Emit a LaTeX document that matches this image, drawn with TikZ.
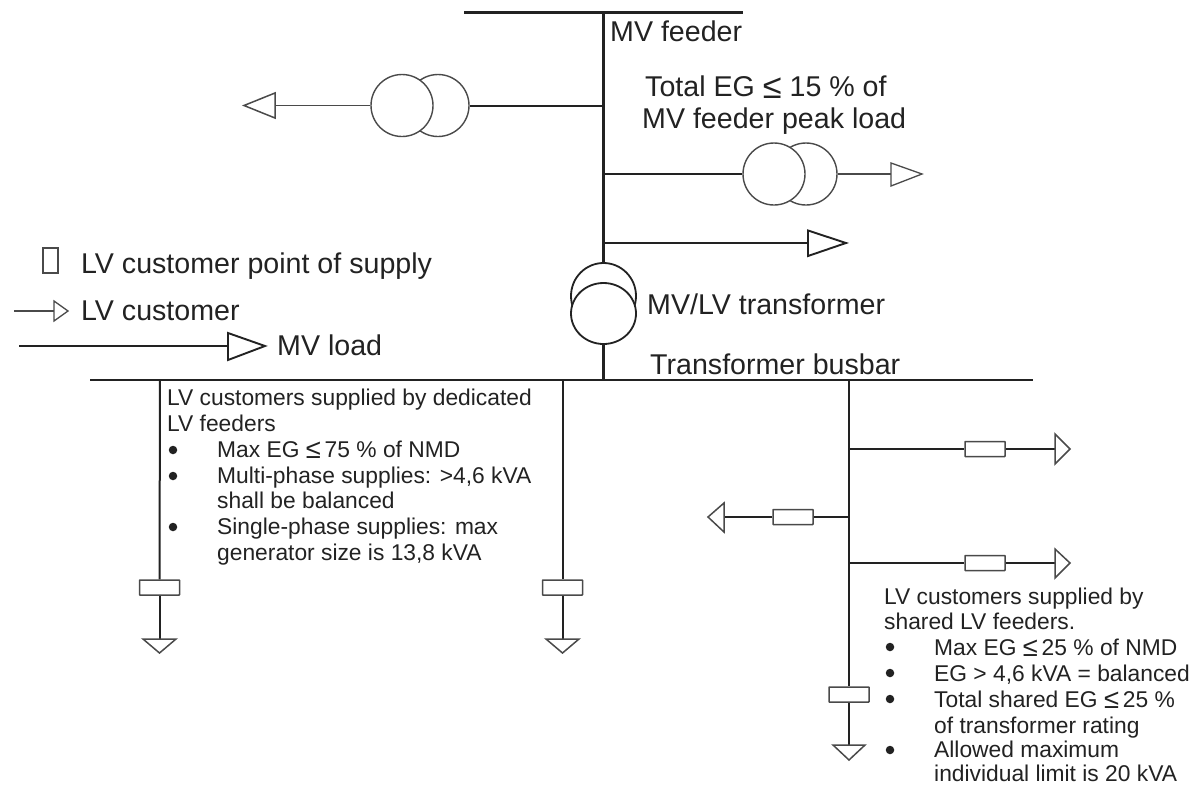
\documentclass[tikz,border=0pt]{standalone}
\usepackage{fontspec}
\usepackage{graphicx}
\usetikzlibrary{shapes.geometric}
\setmainfont{Liberation Sans}
\definecolor{ink}{HTML}{222222}
\definecolor{soft}{HTML}{4A4A4A}
\newcommand{\bigle}{\raisebox{-0.06em}{\scalebox{1.2}{≤}}}
\newcommand{\tightle}{\raisebox{-0.06em}{\scalebox{1.2}{≤}}\hspace{-2.5pt}}
\tikzset{
  x=1pt,y=-1pt,
  bar/.style={draw=ink,line width=2.4pt},
  wire/.style={draw=ink,line width=2pt},
  thin wire/.style={draw=soft,line width=1.3pt},
  fuse/.style={draw=soft,fill=white,line width=1.5pt,rectangle,rounded corners=0.5pt,inner sep=0pt,minimum width=40pt,minimum height=15pt},
  legend box/.style={draw=soft,fill=white,line width=1.3pt,rectangle,inner sep=0pt,minimum width=15pt,minimum height=25pt},
  tri/.style={draw=soft,fill=white,line width=1.5pt,line join=miter},
  tri big/.style={draw=ink,fill=white,line width=1.9pt,line join=miter},
  coil/.style={draw=soft,fill=white,line width=1.4pt},
  coil dark/.style={draw=ink,fill=white,line width=1.8pt},
  big/.style={anchor=base west,inner sep=0pt,text=ink,font=\fontsize{28.6}{32}\selectfont},
  small/.style={anchor=base west,inner sep=0pt,text=ink,font=\fontsize{22.8}{26}\selectfont},
  dot/.style={circle,fill=ink,inner sep=0pt,minimum size=8.5pt},
}
\begin{document}
\begin{tikzpicture}
\useasboundingbox (0,0) rectangle (1193,785);
% busbars
\coordinate (mvL) at (464,12.5);
\coordinate (mvR) at (743,12.5);
\coordinate (mvJ) at (603.5,12.5);
\coordinate (busL) at (90,380);
\coordinate (busR) at (1033,380);
\coordinate (busT) at (603.5,380);
\coordinate (busA) at (160,380);
\coordinate (busB) at (562.5,380);
\coordinate (busC) at (849,380);
\draw[bar] (mvL) -- (mvR);
\draw[bar] (busL) -- (busR);
% main feeder
\coordinate (j1) at (603.5,105.5);
\coordinate (j2) at (603.5,174);
\coordinate (j3) at (603.5,243);
\coordinate (txTop) at (603.5,264);
\coordinate (txBot) at (603.5,344);
\draw[bar] (mvJ) -- (txTop);
\draw[bar] (txBot) -- (busT);
% MV/LV transformer
\node[coil dark,ellipse,inner sep=0pt,minimum width=65pt,minimum height=66pt] (txA) at (603.5,296) {};
\node[coil dark,ellipse,inner sep=0pt,minimum width=65pt,minimum height=61pt] (txB) at (603.5,313.5) {};
% upper left transformer
\node[coil,circle,inner sep=0pt,minimum size=62pt] (tlB) at (438,105.5) {};
\node[coil,circle,inner sep=0pt,minimum size=62pt] (tlA) at (402,105.5) {};
\coordinate (tlBase) at (275,105.5);
\draw[wire] (j1) -- (tlB.east);
\draw[thin wire] (tlA.west) -- (tlBase);
\draw[tri] (275,93) -- (244,105.5) -- (275,118) -- cycle;
% right transformer
\node[coil,circle,inner sep=0pt,minimum size=62pt] (trB) at (806,174) {};
\node[coil,circle,inner sep=0pt,minimum size=62pt] (trA) at (774,174) {};
\coordinate (trBase) at (891,174);
\draw[wire] (j2) -- (trA.west);
\draw[thin wire] (trB.east) -- (trBase);
\draw[tri,line width=1.3pt] (891,163) -- (922,174) -- (891,186) -- cycle;
% MV load on feeder
\coordinate (mvlBase) at (808,243);
\draw[wire] (j3) -- (mvlBase);
\draw[tri big] (808,230.5) -- (846,243) -- (808,256) -- cycle;
% legend
\node[legend box] (lgBox) at (50.5,260.5) {};
\coordinate (lgA) at (14,311);
\coordinate (lgB) at (54,311);
\draw[thin wire] (lgA) -- (lgB);
\draw[tri,line width=1.3pt] (54,301) -- (68,311) -- (54,321) -- cycle;
\coordinate (lgC) at (19,346);
\coordinate (lgD) at (228,346);
\draw[wire] (lgC) -- (lgD);
\draw[tri big] (228,333) -- (265,346) -- (228,360) -- cycle;
% dedicated feeders
\node[fuse] (fA) at (159.5,587.5) {};
\coordinate (gA) at (159.5,639);
\draw[wire] (busA) -- (fA.north);
\draw[wire] (fA.south) -- (gA);
\draw[tri] (143,639) -- (176,639) -- (159.5,653) -- cycle;
\node[fuse] (fB) at (562.5,587.5) {};
\coordinate (gB) at (562.5,639);
\draw[wire] (busB) -- (fB.north);
\draw[wire] (fB.south) -- (gB);
\draw[tri] (546,639) -- (579,639) -- (562.5,653) -- cycle;
% shared feeder
\node[fuse] (fC) at (849,694.5) {};
\coordinate (gC) at (849,745);
\draw[wire] (busC) -- (fC.north);
\draw[wire] (fC.south) -- (gC);
\draw[tri] (833,745) -- (865,745) -- (849,760) -- cycle;
\coordinate (s1) at (849,449);
\coordinate (s2) at (849,517);
\coordinate (s3) at (849,563);
\node[fuse] (f1) at (985,449) {};
\node[fuse] (f2) at (793,517) {};
\node[fuse] (f3) at (985,563) {};
\coordinate (e1) at (1055,449);
\coordinate (e2) at (724,517);
\coordinate (e3) at (1055,563);
\draw[wire] (s1) -- (f1.west);
\draw[wire] (f1.east) -- (e1);
\draw[wire] (s2) -- (f2.east);
\draw[wire] (f2.west) -- (e2);
\draw[wire] (s3) -- (f3.west);
\draw[wire] (f3.east) -- (e3);
\draw[tri] (1055,434) -- (1070,449) -- (1055,464) -- cycle;
\draw[tri] (724,503) -- (708,517) -- (724,532) -- cycle;
\draw[tri] (1055,549) -- (1070,563) -- (1055,578) -- cycle;
% labels
\node[big] (t1) at (610,41) {MV feeder};
\node[big] (t2) at (645,96.5) {Total EG \bigle{} 15 \% of};
\node[big] (t3) at (642,128.5) {MV feeder peak load};
\node[big] (t4) at (647,314) {MV/LV transformer};
\node[big] (t5) at (650,374) {Transformer busbar};
\node[big] (t6) at (81,273) {LV customer point of supply};
\node[big] (t7) at (81,320) {LV customer};
\node[big] (t8) at (277,355.5) {MV load};
% dedicated text
\node[small] (a1) at (167,405) {LV customers supplied by dedicated};
\node[small] (a2) at (167,431) {LV feeders};
\node[dot] (ad1) at (173,450) {};
\node[small] (a3) at (217,457.5) {Max EG \tightle{} 75 \% of NMD};
\node[dot] (ad2) at (173,476) {};
\node[small] (a4) at (217,483) {Multi-phase supplies: >4,6 kVA};
\node[small] (a5) at (217,508) {shall be balanced};
\node[dot] (ad3) at (173,527) {};
\node[small] (a6) at (217,534) {Single-phase supplies: max};
\node[small] (a7) at (217,560) {generator size is 13,8 kVA};
% shared text
\node[small] (b1) at (884,604) {LV customers supplied by};
\node[small] (b2) at (884,629) {shared LV feeders.};
\node[dot] (bd1) at (890,647) {};
\node[small] (b3) at (934,655) {Max EG \tightle{} 25 \% of NMD};
\node[dot] (bd2) at (890,673) {};
\node[small] (b4) at (934,681) {EG > 4,6 kVA = balanced};
\node[dot] (bd3) at (890,699) {};
\node[small] (b5) at (934,707) {Total shared EG \tightle{} 25 \%};
\node[small] (b6) at (934,733) {of transformer rating};
\node[dot] (bd4) at (890,750) {};
\node[small] (b7) at (934,757.5) {Allowed maximum};
\node[small] (b8) at (934,781) {individual limit is 20 kVA};
\end{tikzpicture}
\end{document}
